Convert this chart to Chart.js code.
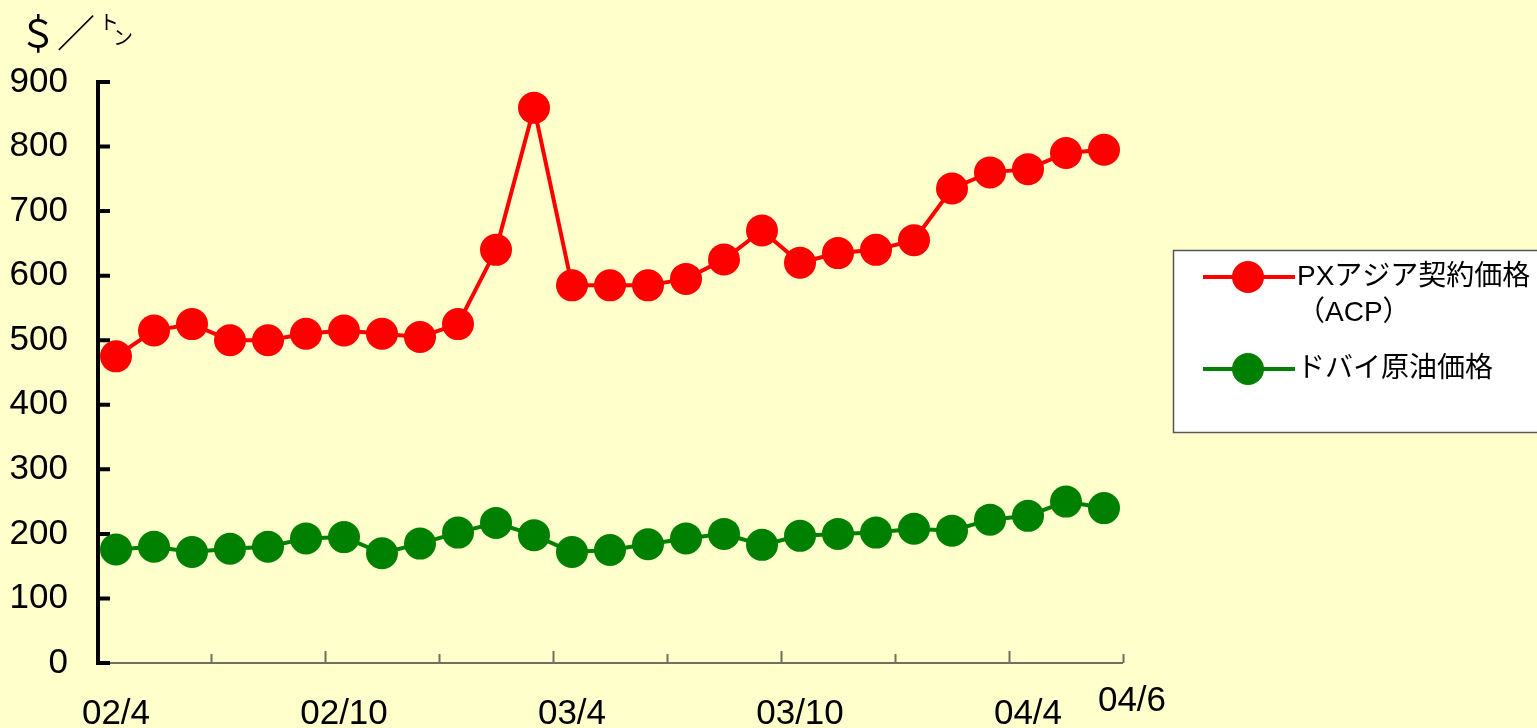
<html lang="ja">
<head>
    <meta charset="utf-8">
    <title>PXアジア契約価格とドバイ原油価格</title>
    <style>
        html, body { margin: 0; padding: 0; background: #FFFFCC; overflow: hidden; }
        #wrap { width: 1537px; height: 728px; }
    </style>
</head>

<body>
    <div id="wrap"><canvas id="pxChart"></canvas></div>

    <script src="https://cdn.jsdelivr.net/npm/chart.js"></script>
    <script>
        // monthly categories, 2002/4 .. 2004/6
        const months = [
            '02/4', '02/5', '02/6', '02/7', '02/8', '02/9', '02/10', '02/11', '02/12',
            '03/1', '03/2', '03/3', '03/4', '03/5', '03/6', '03/7', '03/8', '03/9',
            '03/10', '03/11', '03/12', '04/1', '04/2', '04/3', '04/4', '04/5', '04/6'
        ];
        // labels printed under the axis
        const shownLabels = ['02/4', '02/10', '03/4', '03/10', '04/4'];
        const endLabel = '04/6';

        // $/t
        const pxAcp = [
            475, 515, 525, 500, 500, 510, 515, 510, 505,
            525, 640, 860, 585, 585, 585, 595, 625, 670,
            620, 635, 640, 655, 735, 760, 765, 790, 795
        ];
        const dubai = [
            176, 180, 172, 177, 180, 193, 195, 170, 185,
            202, 217, 198, 172, 175, 184, 193, 200, 183,
            197, 200, 202, 208, 205, 222, 228, 250, 240
        ];

        const seriesNames = [['PXアジア契約価格', '（ACP）'], ['ドバイ原油価格']];
        const unitLabel = '＄／';

        const baseFont = '"Liberation Sans", "Noto Sans CJK JP", sans-serif';

        /**
         * Draws background, axes with inward ticks, unit label, end label and the boxed legend
         */
        const sheetDecor = {
            id: 'sheetDecor',
            beforeDraw(chart) {
                const ctx = chart.ctx;
                ctx.save();
                ctx.fillStyle = '#FFFFCC';
                ctx.fillRect(0, 0, chart.width, chart.height);
                ctx.restore();
            },
            beforeDatasetsDraw(chart) {
                const ctx = chart.ctx;
                const area = chart.chartArea;
                const ys = chart.scales.y;
                ctx.save();

                // x axis line and ticks every 3 months (boundaries)
                ctx.strokeStyle = '#707060';
                ctx.lineWidth = 2;
                ctx.beginPath();
                ctx.moveTo(area.left, area.bottom);
                ctx.lineTo(area.right, area.bottom);
                const step = (area.right - area.left) / months.length;
                for (let i = 3; i <= months.length; i += 3) {
                    const px = Math.round(area.left + i * step) + 0.5;
                    const len = (i % 6 === 0) ? 12 : 9;
                    ctx.moveTo(px, area.bottom);
                    ctx.lineTo(px, area.bottom - len);
                }
                ctx.stroke();

                // y axis, thick black with ticks pointing in
                ctx.strokeStyle = '#000';
                ctx.lineWidth = 4;
                ctx.beginPath();
                ctx.moveTo(area.left + 1, ys.getPixelForValue(900) - 2);
                ctx.lineTo(area.left + 1, area.bottom + 2);
                for (let v = 0; v <= 900; v += 100) {
                    const py = ys.getPixelForValue(v);
                    ctx.moveTo(area.left + 1, py);
                    ctx.lineTo(area.left + 13, py);
                }
                ctx.stroke();
                ctx.restore();
            },
            afterDraw(chart) {
                const ctx = chart.ctx;
                const area = chart.chartArea;
                const xs = chart.scales.x;
                ctx.save();
                ctx.fillStyle = '#000';

                // unit label
                ctx.textBaseline = 'middle';
                ctx.textAlign = 'left';
                ctx.font = '38px "Noto Sans CJK JP", sans-serif';
                ctx.fillText(unitLabel, 19, 33);
                ctx.font = '20px "Noto Sans CJK JP", sans-serif';
                ctx.fillText('ト', 99, 22);
                ctx.fillText('ン', 113, 37);

                // last month label, raised and to the right of the axis end
                ctx.font = '35px ' + baseFont;
                ctx.textAlign = 'center';
                ctx.fillText(endLabel, xs.getPixelForValue(months.length - 1) + 28, 701);

                // legend box
                const bx = area.right + 50, by = 250, bw = 400, bh = 182;
                ctx.fillStyle = '#fff';
                ctx.fillRect(bx, by, bw, bh);
                ctx.strokeStyle = '#555';
                ctx.lineWidth = 1.5;
                ctx.strokeRect(bx + 0.5, by + 0.5, bw, bh);

                const rows = [277, 369];
                chart.data.datasets.forEach((ds, i) => {
                    const cy = rows[i];
                    ctx.strokeStyle = ds.borderColor;
                    ctx.lineWidth = 4;
                    ctx.beginPath();
                    ctx.moveTo(bx + 30, cy);
                    ctx.lineTo(bx + 122, cy);
                    ctx.stroke();
                    ctx.fillStyle = ds.backgroundColor;
                    ctx.beginPath();
                    ctx.arc(bx + 75, cy, 16, 0, Math.PI * 2);
                    ctx.fill();
                    ctx.fillStyle = '#000';
                    ctx.textAlign = 'left';
                    ctx.font = '28px ' + baseFont;
                    seriesNames[i].forEach((line, k) => {
                        ctx.fillText(line, bx + 124, cy + k * 36);
                    });
                });
                ctx.restore();
            }
        };

        const ctxEl = document.getElementById('pxChart');
        const pxChart = new Chart(ctxEl, {
            type: 'line',
            data: {
                labels: months,
                datasets: [{
                    label: seriesNames[0].join(''),
                    data: pxAcp,
                    borderColor: '#FF0000',
                    backgroundColor: '#FF0000',
                    borderWidth: 4,
                    pointRadius: 16,
                    pointBorderWidth: 0,
                    pointHoverRadius: 16,
                    tension: 0,
                    clip: false
                }, {
                    label: seriesNames[1].join(''),
                    data: dubai,
                    borderColor: '#008000',
                    backgroundColor: '#008000',
                    borderWidth: 4,
                    pointRadius: 16,
                    pointBorderWidth: 0,
                    pointHoverRadius: 16,
                    tension: 0,
                    clip: false
                }]
            },
            options: {
                responsive: true,
                maintainAspectRatio: false,
                animation: false,
                events: [],
                layout: { padding: { left: 0, top: 82, right: 414, bottom: 0 } },
                plugins: {
                    legend: { display: false },
                    tooltip: { enabled: false }
                },
                scales: {
                    x: {
                        offset: true,
                        grid: { display: false },
                        border: { display: false },
                        afterFit: (s) => { s.height = 65; },
                        ticks: {
                            autoSkip: false,
                            maxRotation: 0,
                            padding: 22,
                            color: '#000',
                            font: { size: 35, family: baseFont },
                            callback: function (v, i) {
                                return shownLabels.includes(months[i]) ? months[i] : '';
                            }
                        }
                    },
                    y: {
                        min: 0,
                        max: 900,
                        grid: { display: false },
                        border: { display: false },
                        afterFit: (s) => { s.width = 97; },
                        ticks: {
                            stepSize: 100,
                            padding: 21,
                            color: '#000',
                            font: { size: 35, family: baseFont }
                        }
                    }
                }
            },
            plugins: [sheetDecor]
        });
    </script>
</body>
</html>
